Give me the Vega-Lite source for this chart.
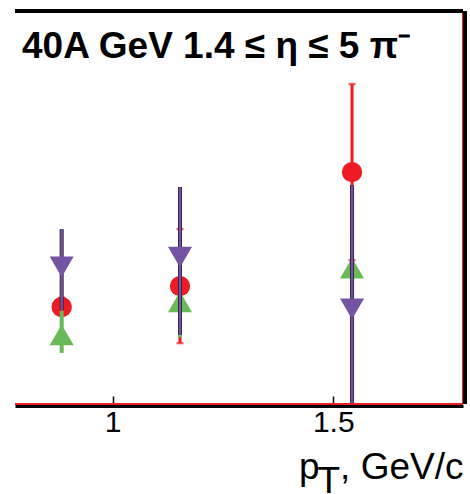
{
  "$schema": "https://vega.github.io/schema/vega-lite/v6.json",
  "width": 448,
  "height": 393,
  "autosize": {"type": "none"},
  "padding": {"left": 15, "top": 11, "right": 7, "bottom": 90},
  "config": {
    "view": {"stroke": null},
    "font": "Liberation Sans",
    "axisX": {
      "format": "~g",
      "grid": false,
      "domainColor": "black",
      "domainWidth": 3,
      "offset": 2,
      "tickColor": "black",
      "tickWidth": 1.5,
      "tickSize": -10,
      "labelFont": "Liberation Sans",
      "labelFontSize": 30,
      "labelColor": "black",
      "labelPadding": 11,
      "titleFont": "Liberation Sans",
      "titleFontSize": 37,
      "titleFontWeight": "normal",
      "titleColor": "black",
      "titleAnchor": "end",
      "titleBaseline": "alphabetic",
      "titleLineHeight": 14,
      "titlePadding": 41
    }
  },
  "title": {
    "text": "40A GeV 1.4 ≤ η ≤ 5  π⁻",
    "anchor": "start",
    "frame": "group",
    "orient": "top",
    "baseline": "alphabetic",
    "offset": -85,
    "dx": 7,
    "font": "Liberation Sans",
    "fontSize": 37,
    "fontWeight": "bold",
    "color": "black"
  },
  "datasets": {
    "points": [
      {"pT": 0.8844, "series": "s1", "v": 0.247, "lo": 0.225, "hi": 0.27},
      {"pT": 1.1526, "series": "s1", "v": 0.300, "lo": 0.155, "hi": 0.445},
      {"pT": 1.5425, "series": "s1", "v": 0.590, "lo": 0.366, "hi": 0.814},
      {"pT": 0.8844, "series": "s2", "v": 0.176, "lo": 0.130, "hi": 0.237},
      {"pT": 1.1526, "series": "s2", "v": 0.260, "lo": 0.170, "hi": 0.350},
      {"pT": 1.5425, "series": "s2", "v": 0.346, "lo": 0.240, "hi": 0.450},
      {"pT": 0.8844, "series": "s3", "v": 0.349, "lo": 0.239, "hi": 0.445},
      {"pT": 1.1526, "series": "s3", "v": 0.374, "lo": 0.176, "hi": 0.552},
      {"pT": 1.5425, "series": "s3", "v": 0.242, "lo": -0.07, "hi": 0.557}
    ]
  },
  "data": {"name": "points"},
  "layer": [
    {
      "transform": [{"filter": "datum.series === 's1'"}],
      "mark": {"type": "rule", "color": "#ed1c24", "strokeWidth": 3, "clip": true},
      "encoding": {
        "x": {"field": "pT", "type": "quantitative", "scale": {"domain": [0.7786, 1.794], "nice": false, "zero": false}, "axis": {"values": [1, 1.5], "title": ["p\u00a0\u00a0, GeV/c", "T\u00a0\u00a0\u00a0\u00a0\u00a0\u00a0\u00a0\u00a0\u00a0\u00a0\u00a0\u00a0\u200b"]}},
        "y": {"field": "lo", "type": "quantitative", "scale": {"domain": [0, 1], "nice": false, "zero": false}, "axis": null},
        "y2": {"field": "hi"}
      }
    },
    {
      "transform": [{"filter": "datum.series === 's1'"}],
      "layer": [
        {
          "mark": {"type": "tick", "orient": "horizontal", "color": "#ed1c24", "size": 7, "thickness": 2.5, "clip": true},
          "encoding": {
            "x": {"field": "pT", "type": "quantitative", "scale": {"domain": [0.7786, 1.794], "nice": false, "zero": false}, "axis": {"values": [1, 1.5], "title": ["p\u00a0\u00a0, GeV/c", "T\u00a0\u00a0\u00a0\u00a0\u00a0\u00a0\u00a0\u00a0\u00a0\u00a0\u00a0\u00a0\u200b"]}},
            "y": {"field": "lo", "type": "quantitative", "scale": {"domain": [0, 1], "nice": false, "zero": false}, "axis": null}
          }
        },
        {
          "mark": {"type": "tick", "orient": "horizontal", "color": "#ed1c24", "size": 7, "thickness": 2.5, "clip": true},
          "encoding": {
            "x": {"field": "pT", "type": "quantitative", "scale": {"domain": [0.7786, 1.794], "nice": false, "zero": false}, "axis": {"values": [1, 1.5], "title": ["p\u00a0\u00a0, GeV/c", "T\u00a0\u00a0\u00a0\u00a0\u00a0\u00a0\u00a0\u00a0\u00a0\u00a0\u00a0\u00a0\u200b"]}},
            "y": {"field": "hi", "type": "quantitative", "scale": {"domain": [0, 1], "nice": false, "zero": false}, "axis": null}
          }
        },
        {
          "mark": {"type": "point", "shape": "circle", "filled": true, "opacity": 1, "color": "#ed1c24", "size": 415},
          "encoding": {
            "x": {"field": "pT", "type": "quantitative", "scale": {"domain": [0.7786, 1.794], "nice": false, "zero": false}, "axis": {"values": [1, 1.5], "title": ["p\u00a0\u00a0, GeV/c", "T\u00a0\u00a0\u00a0\u00a0\u00a0\u00a0\u00a0\u00a0\u00a0\u00a0\u00a0\u00a0\u200b"]}},
            "y": {"field": "v", "type": "quantitative", "scale": {"domain": [0, 1], "nice": false, "zero": false}, "axis": null}
          }
        }
      ]
    },
    {
      "transform": [{"filter": "datum.series === 's2'"}],
      "layer": [
        {
          "mark": {"type": "rule", "color": "#6ab958", "strokeWidth": 4, "clip": true},
          "encoding": {
            "x": {"field": "pT", "type": "quantitative", "scale": {"domain": [0.7786, 1.794], "nice": false, "zero": false}, "axis": {"values": [1, 1.5], "title": ["p\u00a0\u00a0, GeV/c", "T\u00a0\u00a0\u00a0\u00a0\u00a0\u00a0\u00a0\u00a0\u00a0\u00a0\u00a0\u00a0\u200b"]}},
            "y": {"field": "lo", "type": "quantitative", "scale": {"domain": [0, 1], "nice": false, "zero": false}, "axis": null},
            "y2": {"field": "hi"}
          }
        },
        {
          "mark": {"type": "point", "shape": "triangle-up", "filled": true, "opacity": 1, "color": "#6ab958", "size": 576},
          "encoding": {
            "x": {"field": "pT", "type": "quantitative", "scale": {"domain": [0.7786, 1.794], "nice": false, "zero": false}, "axis": {"values": [1, 1.5], "title": ["p\u00a0\u00a0, GeV/c", "T\u00a0\u00a0\u00a0\u00a0\u00a0\u00a0\u00a0\u00a0\u00a0\u00a0\u00a0\u00a0\u200b"]}},
            "y": {"field": "v", "type": "quantitative", "scale": {"domain": [0, 1], "nice": false, "zero": false}, "axis": null}
          }
        }
      ]
    },
    {
      "transform": [{"filter": "datum.series === 's3'"}],
      "layer": [
        {
          "mark": {"type": "rule", "color": "#2a1f3a", "strokeWidth": 4, "clip": true},
          "encoding": {
            "x": {"field": "pT", "type": "quantitative", "scale": {"domain": [0.7786, 1.794], "nice": false, "zero": false}, "axis": {"values": [1, 1.5], "title": ["p\u00a0\u00a0, GeV/c", "T\u00a0\u00a0\u00a0\u00a0\u00a0\u00a0\u00a0\u00a0\u00a0\u00a0\u00a0\u00a0\u200b"]}},
            "y": {"field": "lo", "type": "quantitative", "scale": {"domain": [0, 1], "nice": false, "zero": false}, "axis": null},
            "y2": {"field": "hi"}
          }
        },
        {
          "mark": {"type": "rule", "color": "#7553a3", "strokeWidth": 2.4, "clip": true},
          "encoding": {
            "x": {"field": "pT", "type": "quantitative", "scale": {"domain": [0.7786, 1.794], "nice": false, "zero": false}, "axis": {"values": [1, 1.5], "title": ["p\u00a0\u00a0, GeV/c", "T\u00a0\u00a0\u00a0\u00a0\u00a0\u00a0\u00a0\u00a0\u00a0\u00a0\u00a0\u00a0\u200b"]}},
            "y": {"field": "lo", "type": "quantitative", "scale": {"domain": [0, 1], "nice": false, "zero": false}, "axis": null},
            "y2": {"field": "hi"}
          }
        },
        {
          "mark": {"type": "point", "shape": "triangle-down", "filled": true, "opacity": 1, "color": "#7553a3", "size": 576},
          "encoding": {
            "x": {"field": "pT", "type": "quantitative", "scale": {"domain": [0.7786, 1.794], "nice": false, "zero": false}, "axis": {"values": [1, 1.5], "title": ["p\u00a0\u00a0, GeV/c", "T\u00a0\u00a0\u00a0\u00a0\u00a0\u00a0\u00a0\u00a0\u00a0\u00a0\u00a0\u00a0\u200b"]}},
            "y": {"field": "v", "type": "quantitative", "scale": {"domain": [0, 1], "nice": false, "zero": false}, "axis": null}
          }
        }
      ]
    },
    {
      "mark": {"type": "rule", "color": "#ed1c24", "strokeWidth": 1.2},
      "encoding": {
        "y": {"datum": 0, "type": "quantitative", "scale": {"domain": [0, 1], "nice": false, "zero": false}, "axis": null}
      }
    },
    {
      "mark": {"type": "rule", "color": "#ed1c24", "strokeWidth": 1.2},
      "encoding": {
        "x": {"datum": 1.794, "type": "quantitative", "scale": {"domain": [0.7786, 1.794], "nice": false, "zero": false}, "axis": {"values": [1, 1.5], "title": ["p\u00a0\u00a0, GeV/c", "T\u00a0\u00a0\u00a0\u00a0\u00a0\u00a0\u00a0\u00a0\u00a0\u00a0\u00a0\u00a0\u200b"]}}
      }
    },
    {
      "mark": {"type": "rule", "color": "black", "strokeWidth": 3, "xOffset": 2},
      "encoding": {
        "x": {"datum": 1.794, "type": "quantitative", "scale": {"domain": [0.7786, 1.794], "nice": false, "zero": false}, "axis": {"values": [1, 1.5], "title": ["p\u00a0\u00a0, GeV/c", "T\u00a0\u00a0\u00a0\u00a0\u00a0\u00a0\u00a0\u00a0\u00a0\u00a0\u00a0\u00a0\u200b"]}}
      }
    },
    {
      "mark": {"type": "rule", "color": "black", "strokeWidth": 3, "x2Offset": 4},
      "encoding": {
        "y": {"datum": 1, "type": "quantitative", "scale": {"domain": [0, 1], "nice": false, "zero": false}, "axis": null}
      }
    }
  ]
}
